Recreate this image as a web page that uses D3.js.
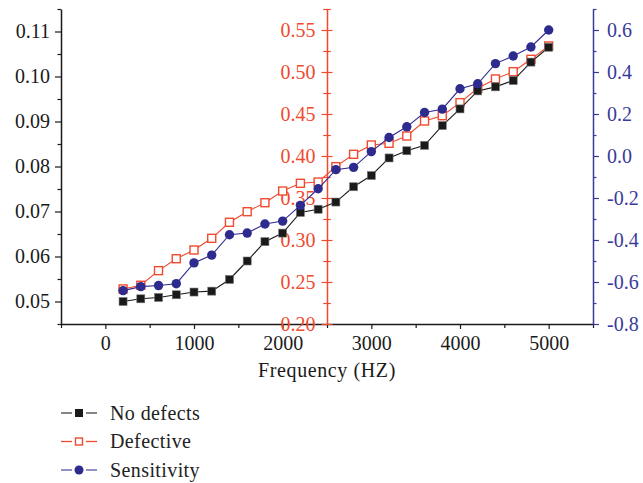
<!DOCTYPE html>
<html>
<head>
<meta charset="utf-8">
<script src="https://cdn.jsdelivr.net/npm/d3@7"></script>
<style>
  body { margin: 0; background: #fff; }
  svg { display: block; }
  text { font-family: "Liberation Serif", "Times New Roman", serif; }
</style>
</head>
<body>
<svg id="chart" width="643" height="483"></svg>
<script>
// frequency (Hz)
var freq = [200, 400, 600, 800, 1000, 1200, 1400, 1600, 1800, 2000, 2200, 2400, 2600,
            2800, 3000, 3200, 3400, 3600, 3800, 4000, 4200, 4400, 4600, 4800, 5000];
// left axis
var noDefects = [0.0500, 0.0506, 0.0509, 0.0515, 0.0521, 0.0523, 0.0549, 0.0590, 0.0633,
                 0.0652, 0.0698, 0.0705, 0.0721, 0.0755, 0.0780, 0.0819, 0.0835, 0.0847,
                 0.0891, 0.0928, 0.0968, 0.0977, 0.0991, 0.1032, 0.1065];
// middle (red) axis
var defective = [0.2417, 0.2461, 0.2635, 0.2777, 0.2881, 0.3020, 0.3211, 0.3337, 0.3444,
                 0.3583, 0.3675, 0.3690, 0.3873, 0.4020, 0.4131, 0.4151, 0.4238, 0.4417,
                 0.4480, 0.4635, 0.4806, 0.4917, 0.5004, 0.5151, 0.5310];
// right (blue) axis
var sensitivity = [-0.641, -0.622, -0.617, -0.608, -0.509, -0.472, -0.375, -0.367, -0.324,
                   -0.310, -0.235, -0.156, -0.065, -0.054, 0.021, 0.088, 0.139, 0.207,
                   0.223, 0.320, 0.344, 0.440, 0.476, 0.519, 0.600];

var xTicks = [0, 1000, 2000, 3000, 4000, 5000];
var xMinor = [-500, 500, 1500, 2500, 3500, 4500, 5500];
var leftTicks = [0.05, 0.06, 0.07, 0.08, 0.09, 0.10, 0.11];
var leftMinor = [0.045, 0.055, 0.065, 0.075, 0.085, 0.095, 0.105, 0.115];
var redTicks = [0.20, 0.25, 0.30, 0.35, 0.40, 0.45, 0.50, 0.55];
var redMinor = [0.225, 0.275, 0.325, 0.375, 0.425, 0.475, 0.525, 0.575];
var rightTicks = [-0.8, -0.6, -0.4, -0.2, 0.0, 0.2, 0.4, 0.6];
var rightMinor = [-0.7, -0.5, -0.3, -0.1, 0.1, 0.3, 0.5, 0.7];

var seriesNames = ["No defects", "Defective", "Sensitivity"];

var BLACK = "#1a1a1a", RED = "#f04a2f", BLUE = "#2e2b8f", BLUE_AX = "#3b3a9a";

var plotLeft = 61, plotRight = 593, plotTop = 9, plotBottom = 324;

var svg = d3.select("#chart");

var x = d3.scaleLinear().domain([-500, 5500]).range([plotLeft, plotRight]);
var yL = d3.scaleLinear().domain([0.045, 0.115]).range([plotBottom, plotTop]);
var yR = d3.scaleLinear().domain([0.2, 0.575]).range([plotBottom, plotTop]);
var yB = d3.scaleLinear().domain([-0.8, 0.7]).range([plotBottom, plotTop]);

var fmt2 = d3.format(".2f");
var fmtB = function(d) { return d3.format(".1f")(d).replace("\u2212", "-"); };

function styleAxis(g, color) {
    g.select(".domain").attr("stroke", color).attr("stroke-width", 1.5);
    g.selectAll(".tick line").attr("stroke", color).attr("stroke-width", 1.2);
    g.selectAll(".tick text").attr("fill", color).attr("font-size", 20)
        .attr("font-family", "Liberation Serif, serif");
}

// x axis
var gx = svg.append("g").attr("transform", "translate(0," + plotBottom + ")")
    .call(d3.axisBottom(x).tickValues(xTicks).tickFormat(d3.format("d"))
        .tickSize(5).tickPadding(7).tickSizeOuter(0));
styleAxis(gx, BLACK);
var gx2 = svg.append("g").attr("transform", "translate(0," + plotBottom + ")")
    .call(d3.axisBottom(x).tickValues(xMinor).tickSize(4).tickFormat("").tickSizeOuter(0));
styleAxis(gx2, BLACK);
gx2.select(".domain").remove();

svg.append("text")
    .attr("x", (plotLeft + plotRight) / 2).attr("y", 377)
    .attr("text-anchor", "middle").attr("font-size", 20)
    .attr("letter-spacing", 0.6).attr("fill", BLACK)
    .text("Frequency (HZ)");

// left axis
var gl = svg.append("g").attr("transform", "translate(" + plotLeft + ",0)")
    .call(d3.axisLeft(yL).tickValues(leftTicks).tickFormat(fmt2).tickSize(6).tickPadding(5).tickSizeOuter(0));
styleAxis(gl, BLACK);
var gl2 = svg.append("g").attr("transform", "translate(" + plotLeft + ",0)")
    .call(d3.axisLeft(yL).tickValues(leftMinor).tickFormat("").tickSize(3.5).tickSizeOuter(0));
styleAxis(gl2, BLACK);
gl2.select(".domain").remove();

// middle red axis at 2500 Hz, ticks cross the line
var xr = x(2500);
var gr = svg.append("g").attr("transform", "translate(" + xr + ",0)")
    .call(d3.axisLeft(yR).tickValues(redTicks).tickFormat(fmt2).tickSize(5.5).tickPadding(6).tickSizeOuter(0));
styleAxis(gr, RED);
var gr2 = svg.append("g").attr("transform", "translate(" + xr + ",0)")
    .call(d3.axisRight(yR).tickValues(redTicks).tickFormat("").tickSize(5.5).tickSizeOuter(0));
styleAxis(gr2, RED);
gr2.select(".domain").remove();
var gr3 = svg.append("g").attr("transform", "translate(" + xr + ",0)")
    .call(d3.axisLeft(yR).tickValues(redMinor).tickFormat("").tickSize(3.8).tickSizeOuter(0));
styleAxis(gr3, RED);
gr3.select(".domain").remove();
var gr4 = svg.append("g").attr("transform", "translate(" + xr + ",0)")
    .call(d3.axisRight(yR).tickValues(redMinor).tickFormat("").tickSize(3.8).tickSizeOuter(0));
styleAxis(gr4, RED);
gr4.select(".domain").remove();

// right blue axis
var gb = svg.append("g").attr("transform", "translate(" + plotRight + ",0)")
    .call(d3.axisRight(yB).tickValues(rightTicks).tickFormat(fmtB).tickSize(6).tickPadding(8).tickSizeOuter(0));
styleAxis(gb, BLUE_AX);
var gb2 = svg.append("g").attr("transform", "translate(" + plotRight + ",0)")
    .call(d3.axisRight(yB).tickValues(rightMinor).tickFormat("").tickSize(3.5).tickSizeOuter(0));
styleAxis(gb2, BLUE_AX);
gb2.select(".domain").remove();

// series
var lineL = d3.line().x(function(d, i) { return x(freq[i]); }).y(function(d) { return yL(d); });
var lineR = d3.line().x(function(d, i) { return x(freq[i]); }).y(function(d) { return yR(d); });
var lineB = d3.line().x(function(d, i) { return x(freq[i]); }).y(function(d) { return yB(d); });

var sq = 8;

// defective (red, open squares)
svg.append("path").datum(defective).attr("d", lineR)
    .attr("fill", "none").attr("stroke", RED).attr("stroke-width", 1.1);
svg.append("g").selectAll("rect").data(defective).join("rect")
    .attr("x", function(d, i) { return x(freq[i]) - sq / 2; })
    .attr("y", function(d) { return yR(d) - sq / 2; })
    .attr("width", sq).attr("height", sq)
    .attr("fill", "#fff").attr("stroke", RED).attr("stroke-width", 1.4);

// no defects (black squares)
svg.append("path").datum(noDefects).attr("d", lineL)
    .attr("fill", "none").attr("stroke", BLACK).attr("stroke-width", 1.1);
svg.append("g").selectAll("rect").data(noDefects).join("rect")
    .attr("x", function(d, i) { return x(freq[i]) - sq / 2; })
    .attr("y", function(d) { return yL(d) - sq / 2; })
    .attr("width", sq).attr("height", sq)
    .attr("fill", BLACK).attr("stroke", "#777").attr("stroke-width", 0.6);

// sensitivity (blue circles)
svg.append("path").datum(sensitivity).attr("d", lineB)
    .attr("fill", "none").attr("stroke", BLUE).attr("stroke-width", 1.1);
svg.append("g").selectAll("circle").data(sensitivity).join("circle")
    .attr("cx", function(d, i) { return x(freq[i]); })
    .attr("cy", function(d) { return yB(d); })
    .attr("r", 4.7).attr("fill", BLUE);

// legend
var legY = [413, 441.5, 470];
var leg = svg.append("g");
seriesNames.forEach(function(name, i) {
    var g = leg.append("g").attr("transform", "translate(0," + legY[i] + ")");
    var lc = i === 0 ? "#444" : (i === 1 ? RED : "#5a56a8");
    g.append("line").attr("x1", 61).attr("x2", 72).attr("stroke", lc).attr("stroke-width", 1.3);
    g.append("line").attr("x1", 86).attr("x2", 97).attr("stroke", lc).attr("stroke-width", 1.3);
    if (i === 0) {
        g.append("rect").attr("x", 75).attr("y", -4).attr("width", 8).attr("height", 8).attr("fill", BLACK);
    } else if (i === 1) {
        g.append("rect").attr("x", 75.5).attr("y", -3.5).attr("width", 7).attr("height", 7)
            .attr("fill", "#fff").attr("stroke", RED).attr("stroke-width", 1.4);
    } else {
        g.append("circle").attr("cx", 79).attr("cy", 0).attr("r", 4.5).attr("fill", BLUE);
    }
    g.append("text").attr("x", 110).attr("y", 6.8)
        .attr("font-size", 20).attr("letter-spacing", 0.4).attr("fill", "#222")
        .text(name);
});
</script>
</body>
</html>
